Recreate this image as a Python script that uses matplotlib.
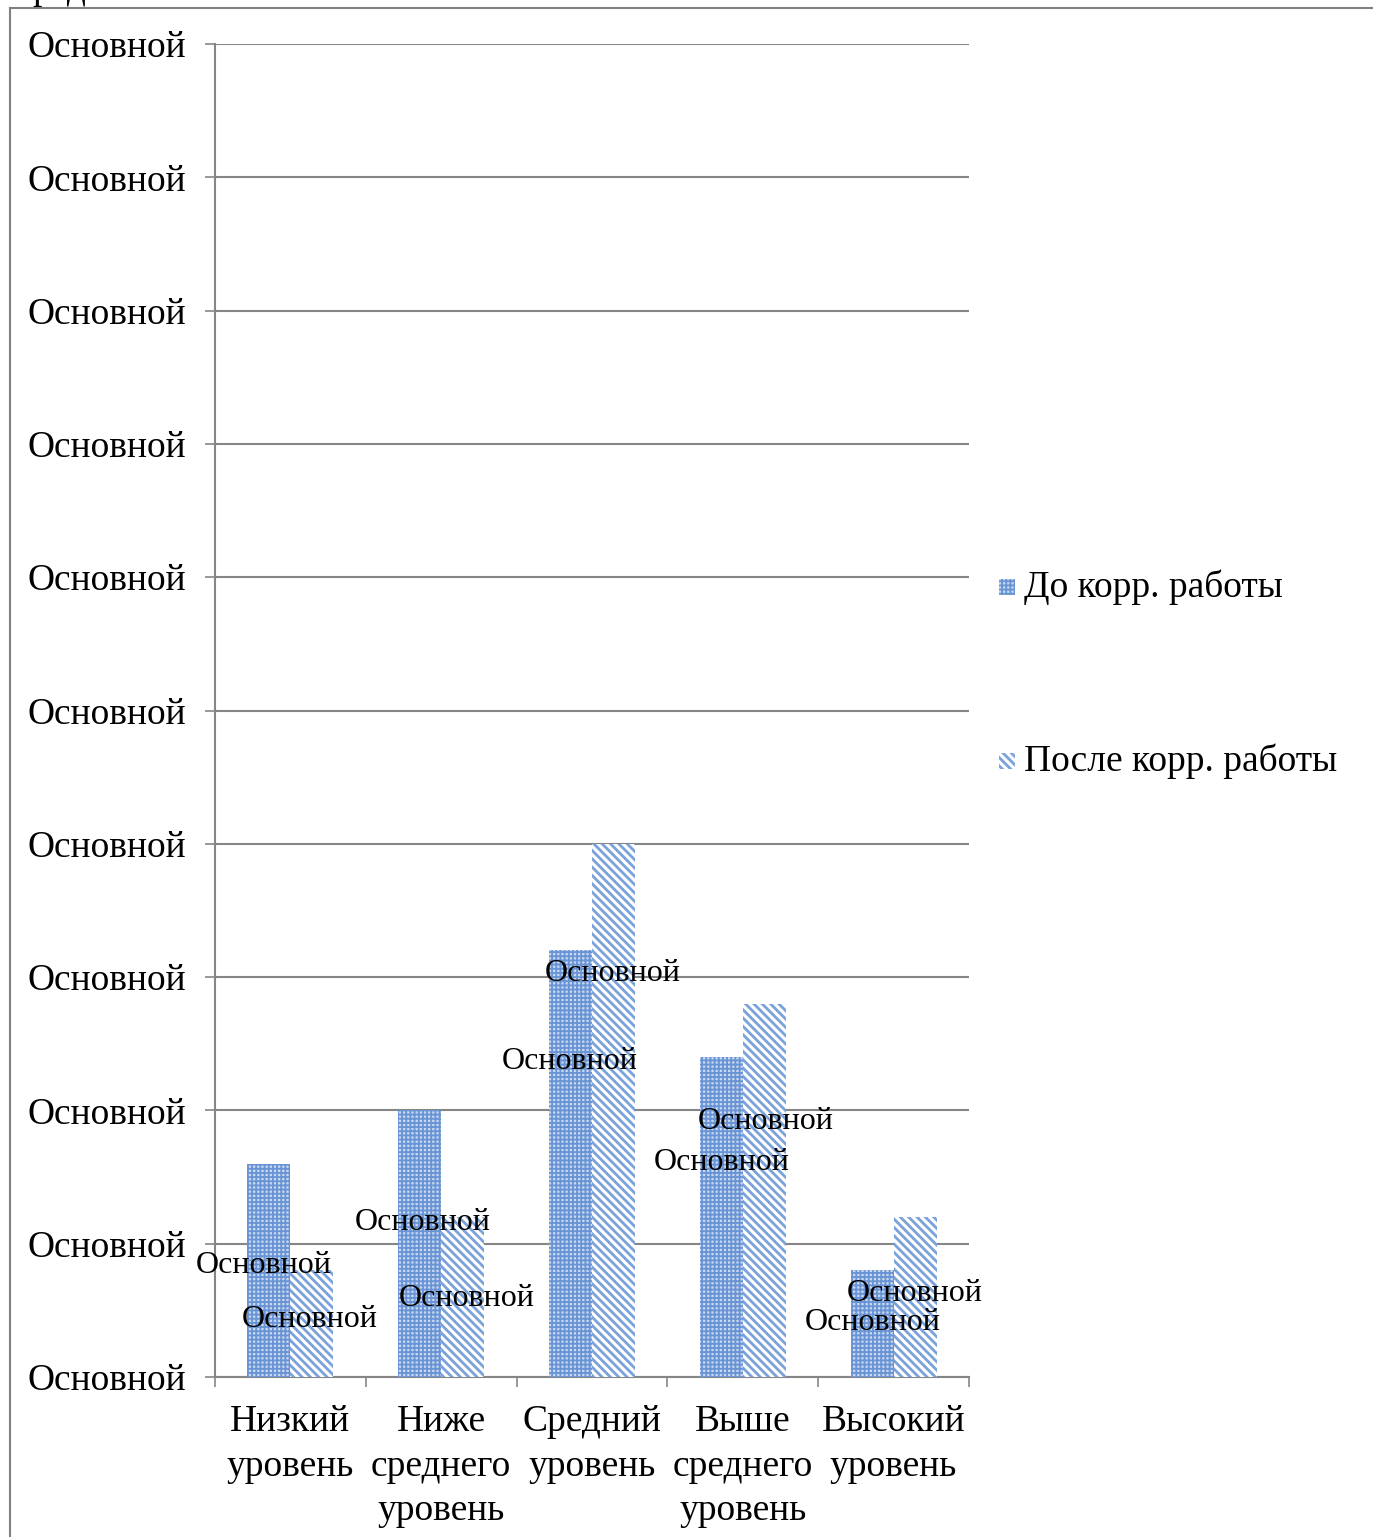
import matplotlib
matplotlib.use("Agg")
import matplotlib.pyplot as plt
import numpy as np
from matplotlib.patches import Rectangle
from matplotlib.lines import Line2D

categories = ["Низкий\nуровень", "Ниже\nсреднего\nуровень", "Средний\nуровень",
              "Выше\nсреднего\nуровень", "Высокий\nуровень"]
before = [1.6, 2.0, 3.2, 2.4, 0.8]
after = [0.8, 1.2, 4.0, 2.8, 1.2]
series_names = ["До корр. работы", "После корр. работы"]
ytick_values = list(range(0, 11))
ytick_labels = ["Основной"] * 11
data_label_text = "Основной"

# manual label placement (offsets in category units, y in data units)
lab_before_dx = [-0.18, -0.12, -0.15, -0.14, -0.14]
lab_before_y = [0.84, 1.16, 2.37, 1.61, 0.41]
lab_after_dx = [0.13, 0.17, 0.14, 0.15, 0.14]
lab_after_y = [0.435, 0.59, 3.03, 1.92, 0.63]

plt.rcParams['font.family'] = ['Liberation Serif', 'DejaVu Serif']

W, H = 1373, 1537
fig = plt.figure(figsize=(W / 100, H / 100), dpi=100)
ax = fig.add_axes([215 / W, (H - 1377) / H, (969 - 215) / W, (1377 - 44) / H])

fs = 27
x = np.arange(len(categories))
bw = 0.285

BEFORE_STYLE = dict(facecolor='#c8d8f0', edgecolor='#6893d4', hatch='++++')
AFTER_STYLE = dict(facecolor='white', edgecolor='#7aa2da', hatch='\\\\\\\\')
HLW_BEFORE = 1.3
HLW_AFTER = 2.0


def set_hlw(patches, lw):
    for p in patches:
        if hasattr(p, 'set_hatch_linewidth'):
            p.set_hatch_linewidth(lw)
        else:
            p._hatch_linewidth = lw


with plt.rc_context({'hatch.linewidth': HLW_BEFORE}):
    b1 = ax.bar(x - bw / 2, before, width=bw, linewidth=0, zorder=3, **BEFORE_STYLE)
set_hlw(b1, HLW_BEFORE)
with plt.rc_context({'hatch.linewidth': HLW_AFTER}):
    b2 = ax.bar(x + bw / 2, after, width=bw, linewidth=0, zorder=3, **AFTER_STYLE)
set_hlw(b2, HLW_AFTER)

for i in range(len(categories)):
    ax.text(x[i] + lab_before_dx[i], lab_before_y[i], data_label_text, ha='center',
            va='center', fontsize=23, zorder=5)
    ax.text(x[i] + lab_after_dx[i], lab_after_y[i], data_label_text, ha='center',
            va='center', fontsize=23, zorder=5)

ax.set_xlim(-0.5, len(categories) - 0.5)
ax.set_ylim(0, 10)
ax.set_yticks(ytick_values)
ax.set_yticklabels(ytick_labels, fontsize=fs)
ax.set_xticks(x)
ax.set_xticklabels(categories, fontsize=fs, linespacing=1.38)
ax.set_xticks(np.arange(-0.5, len(categories)), minor=True)
ax.tick_params(axis='x', which='major', length=0, pad=20)
ax.tick_params(axis='x', which='minor', length=7.2, width=1.2, color='#868686')
ax.tick_params(axis='y', length=7.2, width=1.2, color='#868686', pad=13.7)
ax.yaxis.grid(True, color='#868686', linewidth=1.5, zorder=0)
ax.set_axisbelow(True)
for s in ['top', 'right']:
    ax.spines[s].set_visible(False)
for s in ['left', 'bottom']:
    ax.spines[s].set_color('#868686')
    ax.spines[s].set_linewidth(1.5)


# legend (manual)
def legend_entry(yc, label, style, hlw):
    with plt.rc_context({'hatch.linewidth': hlw}):
        r = Rectangle((999 / W, (H - yc - 8) / H), 16 / W, 16 / H, transform=fig.transFigure,
                      linewidth=0, **style)
    set_hlw([r], hlw)
    fig.patches.append(r)
    fig.text(1024 / W, (H - yc) / H, label, fontsize=fs, va='center', ha='left')


legend_entry(587, series_names[0], BEFORE_STYLE, HLW_BEFORE)
legend_entry(761, series_names[1], AFTER_STYLE, HLW_AFTER)

# outer frame
fig.add_artist(Line2D([10 / W, 10 / W], [0, (H - 8) / H], transform=fig.transFigure,
                      color='#808080', linewidth=1.5))
fig.add_artist(Line2D([10 / W, 1], [(H - 8) / H, (H - 8) / H], transform=fig.transFigure,
                      color='#808080', linewidth=1.5))
# cut-off title above the frame
fig.text(32 / W, (H + 1) / H, "ред", fontsize=fs, va='baseline', ha='left')

fig.savefig("out.png", dpi=100)
